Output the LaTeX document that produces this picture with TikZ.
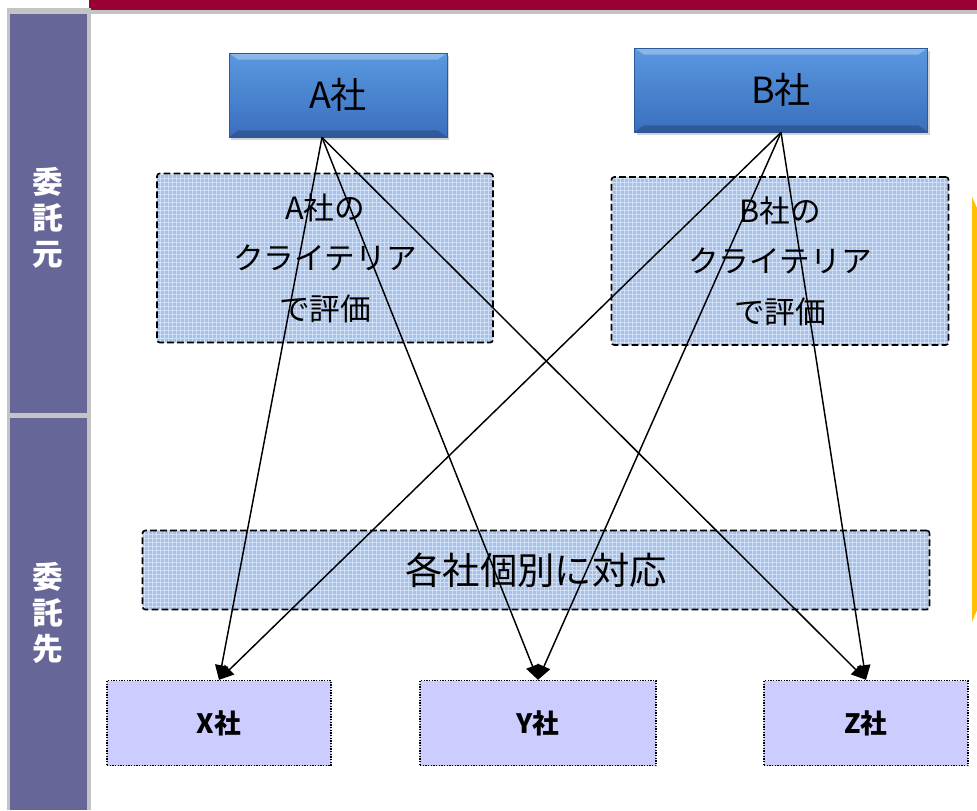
\documentclass[tikz,border=0pt]{standalone}
\usepackage{fontspec}
\setmainfont{Noto Sans CJK JP}
\usetikzlibrary{arrows.meta, calc, shadows, patterns}
\definecolor{crimson}{HTML}{990033}
\definecolor{framegray}{HTML}{C4C4C4}
\definecolor{sidepurple}{HTML}{666699}
\definecolor{boxtop}{HTML}{5A98E0}
\definecolor{boxbottom}{HTML}{3A6FBE}
\definecolor{gridblue}{HTML}{A4C0EC}
\definecolor{destfill}{HTML}{CCCCFF}
\definecolor{sideorange}{HTML}{FFC000}
\def\px{0.75pt}
\tikzset{
    owner/.style = {
        minimum width=#1*\px, minimum height=84*\px, inner sep=0pt,
        top color=boxtop, bottom color=boxbottom,
        draw=boxbottom!80!black, line width=.6pt,
        drop shadow={shadow xshift=1.5pt, shadow yshift=-2pt, opacity=.35},
        font=\fontsize{27}{32}\selectfont,
        path picture={
            \fill[white,opacity=.3] (path picture bounding box.north west)
                -- (path picture bounding box.north east)
                -- ([xshift=-7pt,yshift=-5pt]path picture bounding box.north east)
                -- ([xshift=7pt,yshift=-5pt]path picture bounding box.north west) -- cycle;
            \fill[black,opacity=.2] (path picture bounding box.south west)
                -- (path picture bounding box.south east)
                -- ([xshift=-7pt,yshift=5pt]path picture bounding box.south east)
                -- ([xshift=7pt,yshift=5pt]path picture bounding box.south west) -- cycle;
        }
    },
    criteria/.style = {
        minimum width=#1, inner sep=0pt, align=center,
        preaction={fill=gridblue}, pattern=grid, pattern color=white!50!gridblue,
        draw, dash pattern=on 5pt off 2.5pt, line width=1.2pt, rounded corners=2pt
    },
    vendor/.style = {
        minimum width=#1*\px, minimum height=85*\px, inner sep=0pt,
        fill=destfill, draw, densely dotted, line width=1pt,
        font=\fontsize{20}{24}\selectfont\bfseries
    },
    sidelabel/.style = {
        text=white, align=center, font=\fontsize{23}{27}\selectfont\bfseries
    },
}

\begin{document}
\begin{tikzpicture}[x=\px, y=-\px, line width=1.1pt]
\useasboundingbox (0,0) rectangle (977,810);

\fill[crimson] (89,0) rectangle (977,10);
\fill[framegray] (87,10) rectangle (977,14);
\fill[framegray] (7,8) rectangle (91,810);
\fill[sidepurple] (10,14) rectangle (87,413);
\fill[sidepurple] (10,418) rectangle (87,810);
\node[sidelabel] (src) at (48,218) {委\\託\\元};
\node[sidelabel] (dst) at (48,613) {委\\託\\先};

\fill[sideorange] (972,197) -- (977,208) -- (977,610) -- (972,622) -- cycle;

\node[owner=218] (a) at (338,95) {A社};
\node[owner=293] (b) at (781,90) {B社};
\coordinate (a-out) at ($(a.south)+(-16,0)$);

\node[criteria=336*\px, minimum height=169*\px, font=\fontsize{23}{38}\selectfont]
    (ca) at (325,258) {A社の\\クライテリア\\で評価};
\node[criteria=337*\px, minimum height=168*\px, font=\fontsize{23}{38}\selectfont]
    (cb) at (780,261) {B社の\\クライテリア\\で評価};
\node[criteria=787*\px, minimum height=79*\px, font=\fontsize{28}{32}\selectfont]
    (ind) at (536,570) {各社個別に対応};

\node[vendor=224] (x) at (219,723) {X社};
\node[vendor=236] (y) at (538,723) {Y社};
\node[vendor=204] (z) at (866,723) {Z社};

\foreach \v in {x,y,z}{
    \draw[-{Triangle[length=11pt,width=10pt]}] (a-out) -- (\v.north);
    \draw[-{Triangle[length=11pt,width=10pt]}] (b.south) -- (\v.north);
}
\end{tikzpicture}
\end{document}
